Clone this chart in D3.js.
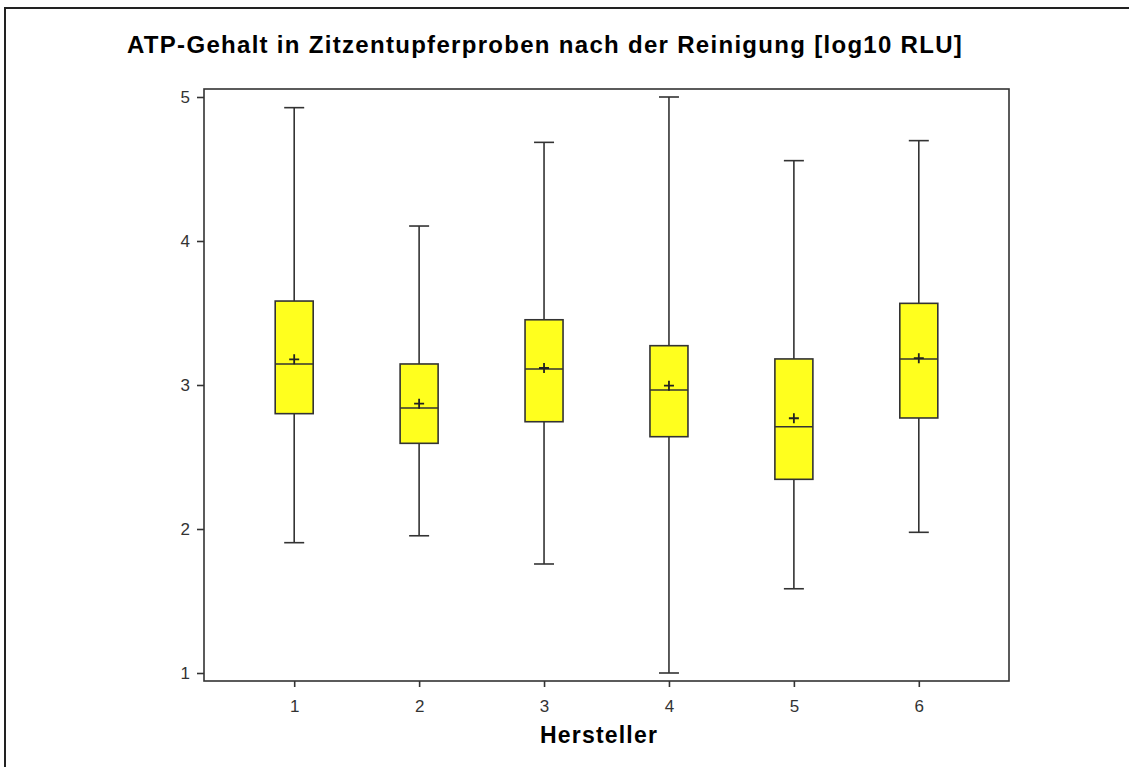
<!DOCTYPE html>
<html>
<head>
<meta charset="utf-8">
<script src="https://cdn.jsdelivr.net/npm/d3@7"></script>
<style>
  body { margin: 0; background: #fff; }
  .axis path, .axis line { stroke: #333; stroke-width: 1.6px; }
</style>
</head>
<body>
<div id="chart"></div>
<script>
// Hersteller 1..6, log10 RLU
var hersteller = [1, 2, 3, 4, 5, 6];
var whiskerLow  = [1.905, 1.953, 1.757, 1.00, 1.585, 1.977];
var q1          = [2.801, 2.595, 2.745, 2.641, 2.345, 2.771];
var median      = [3.146, 2.840, 3.111, 2.965, 2.710, 3.181];
var mean        = [3.178, 2.870, 3.118, 2.995, 2.769, 3.186];
var q3          = [3.583, 3.146, 3.453, 3.273, 3.181, 3.567];
var whiskerHigh = [4.926, 4.104, 4.685, 5.00, 4.558, 4.697];
var yTicks = [1, 2, 3, 4, 5];

var W = 1129, H = 767;
var margin = { top: 89, right: 120, bottom: 86, left: 204 },
    width = 1009 - margin.left,
    height = 681 - margin.top;

var svg = d3.select("#chart").append("svg")
    .attr("width", W)
    .attr("height", H);

// outer frame
svg.append("rect")
    .attr("x", 5).attr("y", 8)
    .attr("width", W + 10).attr("height", H + 10)
    .attr("fill", "none")
    .attr("stroke", "#222")
    .attr("stroke-width", 2);

svg.append("text")
    .attr("x", 127)
    .attr("y", 53)
    .style("font-family", "Liberation Sans, Arial, sans-serif")
    .style("font-weight", "bold")
    .style("font-size", "24px")
    .style("letter-spacing", "1.3px")
    .text("ATP-Gehalt in Zitzentupferproben nach der Reinigung [log10 RLU]");

var g = svg.append("g")
    .attr("transform", "translate(" + margin.left + "," + margin.top + ")");

var x = d3.scaleLinear()
    .domain([0.278, 6.722])
    .range([0, width]);

var y = d3.scaleLinear()
    .domain([1 - 8 / 144, 5 + 8 / 144])
    .range([height, 0]);

var data = hersteller.map(function (h, i) {
    return { h: h, lo: whiskerLow[i], q1: q1[i], med: median[i], mean: mean[i], q3: q3[i], hi: whiskerHigh[i] };
});

// plot frame
g.append("rect")
    .attr("width", width)
    .attr("height", height)
    .attr("fill", "none")
    .attr("stroke", "#333")
    .attr("stroke-width", 1.6);

function styleTicks(s) {
    s.select(".domain").remove();
    s.selectAll("text")
        .style("font-family", "Liberation Sans, Arial, sans-serif")
        .style("font-size", "17px")
        .style("fill", "#333");
}

g.append("g")
    .attr("class", "axis")
    .attr("transform", "translate(0," + height + ")")
    .call(d3.axisBottom(x).tickValues(hersteller).tickFormat(d3.format("d")).tickSize(6).tickPadding(13))
    .call(styleTicks);

g.append("g")
    .attr("class", "axis")
    .call(d3.axisLeft(y).tickValues(yTicks).tickFormat(d3.format("d")).tickSize(7).tickPadding(7))
    .call(styleTicks);

var boxW = 38, capW = 20, lineColor = "#333";

var box = g.selectAll(".box")
    .data(data)
    .enter().append("g")
    .attr("class", "box")
    .attr("transform", function (d) { return "translate(" + x(d.h) + ",0)"; });

// whiskers
box.append("line")
    .attr("y1", function (d) { return y(d.hi); })
    .attr("y2", function (d) { return y(d.lo); })
    .attr("stroke", lineColor).attr("stroke-width", 1.6);

box.selectAll(".cap")
    .data(function (d) { return [d.hi, d.lo]; })
    .enter().append("line")
    .attr("class", "cap")
    .attr("x1", -capW / 2).attr("x2", capW / 2)
    .attr("y1", function (v) { return y(v); })
    .attr("y2", function (v) { return y(v); })
    .attr("stroke", lineColor).attr("stroke-width", 1.6);

box.append("rect")
    .attr("x", -boxW / 2)
    .attr("width", boxW)
    .attr("y", function (d) { return y(d.q3); })
    .attr("height", function (d) { return y(d.q1) - y(d.q3); })
    .attr("fill", "#ffff1e")
    .attr("stroke", lineColor).attr("stroke-width", 1.6);

box.append("line")
    .attr("x1", -boxW / 2).attr("x2", boxW / 2)
    .attr("y1", function (d) { return y(d.med); })
    .attr("y2", function (d) { return y(d.med); })
    .attr("stroke", lineColor).attr("stroke-width", 1.6);

// mean marker
box.append("path")
    .attr("d", function (d) {
        var yy = y(d.mean);
        return "M-5," + yy + "H5M0," + (yy - 5) + "V" + (yy + 5);
    })
    .attr("stroke", "#222").attr("stroke-width", 1.8);

svg.append("text")
    .attr("x", 599)
    .attr("y", 743)
    .attr("text-anchor", "middle")
    .style("font-family", "Liberation Sans, Arial, sans-serif")
    .style("font-weight", "bold")
    .style("font-size", "23px")
    .style("letter-spacing", "1.2px")
    .text("Hersteller");
</script>
</body>
</html>
